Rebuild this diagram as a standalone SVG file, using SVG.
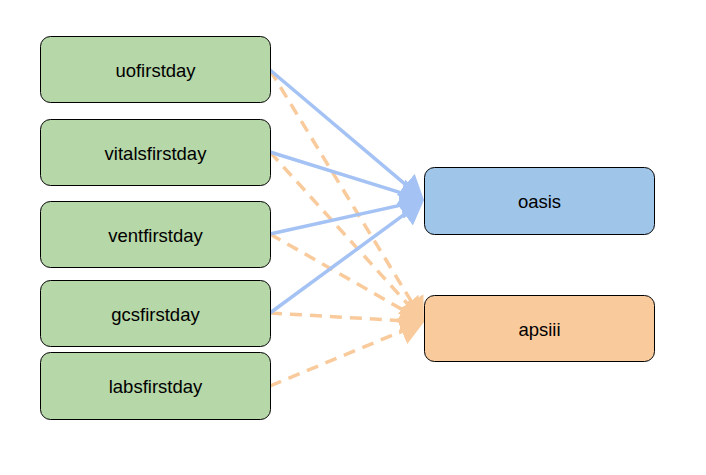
<svg xmlns="http://www.w3.org/2000/svg" width="706" height="475" viewBox="0 0 706 475">
<style>
.box{stroke:#000;stroke-width:1}
.g{fill:#b6d7a8}.b{fill:#9fc5e8}.o{fill:#f9cb9c}
text{font-family:"Liberation Sans",Arial,sans-serif;font-size:18.5px;fill:#000;text-anchor:middle;dominant-baseline:central}
.eb{stroke:#a4c2f4;stroke-width:3.5;fill:none}
.eo{stroke:#f9cb9c;stroke-width:3.5;fill:none;stroke-dasharray:12 8}
</style>
<defs>
<marker id="ab" markerUnits="userSpaceOnUse" viewBox="0 0 24 28" markerWidth="24" markerHeight="28" refX="12" refY="14" orient="auto"><path d="M0,0 L24,14 L0,28 z" fill="#a4c2f4"/></marker>
<marker id="ao" markerUnits="userSpaceOnUse" viewBox="0 0 24 28" markerWidth="24" markerHeight="28" refX="12" refY="14" orient="auto"><path d="M0,0 L24,14 L0,28 z" fill="#f9cb9c"/></marker>
</defs>
<rect width="706" height="475" fill="#fff"/>
<g id="connectors">
<path class="eo" d="M270,70 L417.7,311.8" marker-end="url(#ao)"/>
<path class="eo" d="M270,152 L415.9,313.1" marker-end="url(#ao)"/>
<path class="eo" d="M270,234 L413.6,316" marker-end="url(#ao)"/>
<path class="eo" d="M270,313 L412,321.3" marker-end="url(#ao)"/>
<path class="eo" d="M270,386 L412.9,326.6" marker-end="url(#ao)"/>
<path class="eb" d="M270,70 L414.8,192.3" marker-end="url(#ab)"/>
<path class="eb" d="M270,152 L412.5,196.4" marker-end="url(#ab)"/>
<path class="eb" d="M270,234 L412.3,202.6" marker-end="url(#ab)"/>
<path class="eb" d="M270,313 L414.3,207.1" marker-end="url(#ab)"/>
</g>
<g id="uofirstday"><rect class="box g" x="40.5" y="36.5" width="230" height="66" rx="10"/><text x="155.5" y="70">uofirstday</text></g>
<g id="vitalsfirstday"><rect class="box g" x="40.5" y="119.5" width="230" height="66" rx="10"/><text x="155.5" y="153">vitalsfirstday</text></g>
<g id="ventfirstday"><rect class="box g" x="40.5" y="201.5" width="230" height="66" rx="10"/><text x="155.5" y="235">ventfirstday</text></g>
<g id="gcsfirstday"><rect class="box g" x="40.5" y="280.5" width="230" height="66" rx="10"/><text x="155.5" y="314">gcsfirstday</text></g>
<g id="labsfirstday"><rect class="box g" x="40.5" y="352.5" width="230" height="67" rx="10"/><text x="155.5" y="386">labsfirstday</text></g>
<g id="oasis"><rect class="box b" x="424.5" y="167.5" width="230" height="67" rx="10"/><text x="539.5" y="201">oasis</text></g>
<g id="apsiii"><rect class="box o" x="424.5" y="295.5" width="230" height="66" rx="10"/><text x="539.5" y="329">apsiii</text></g>
</svg>
